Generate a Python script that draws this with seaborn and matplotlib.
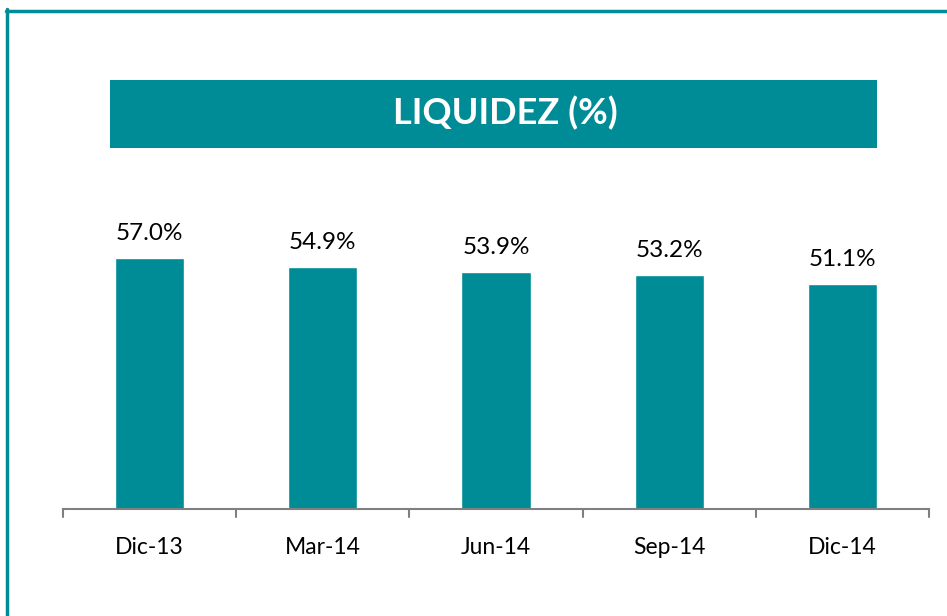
import matplotlib
matplotlib.use("Agg")
import matplotlib.pyplot as plt
import seaborn as sns
import pandas as pd
from matplotlib.patches import Rectangle
from matplotlib.lines import Line2D

categories = ["Dic-13", "Mar-14", "Jun-14", "Sep-14", "Dic-14"]
values = [57.0, 54.9, 53.9, 53.2, 51.1]
title = "LIQUIDEZ (%)"

teal = "#008C96"
sns.set_style("white")
plt.rcParams['font.family'] = ['Lato', 'DejaVu Sans']

df = pd.DataFrame({"cat": categories, "val": values})

fig = plt.figure(figsize=(9.47, 6.16), dpi=100)
W, H = 947, 616
ax = fig.add_axes([63 / W, (H - 509) / H, 866 / W, 70 * 4.4 / H])
sns.barplot(data=df, x="cat", y="val", color=teal, width=0.40, saturation=1, ax=ax)
ax.set_ylim(0, 70)
ax.set_xlim(-0.5, len(categories) - 0.5)
ax.set_xlabel("")
ax.set_ylabel("")
ax.set_yticks([])
for s in ["top", "right", "left"]:
    ax.spines[s].set_visible(False)
ax.spines["bottom"].set_color("#808080")
ax.spines["bottom"].set_linewidth(1.5)
ax.set_xticks([i for i in range(len(categories))])
ax.set_xticklabels(categories, fontsize=16.5, color="black")
ax.tick_params(axis="x", length=0, pad=20)
# boundary ticks
for b in [i - 0.5 for i in range(len(categories) + 1)]:
    ax.plot([b, b], [0, -1.8], color="#808080", lw=1.5, clip_on=False)
for i, v in enumerate(values):
    ax.text(i, v + 3.2, f"{v:.1f}%", ha="center", va="bottom", fontsize=17.5, color="black")

# title box
fig.patches.append(Rectangle((110 / W, (H - 148) / H), 767 / W, 68 / H,
                             transform=fig.transFigure, facecolor=teal, edgecolor="none"))
fig.text(505 / W, (H - 113) / H, title, ha="center", va="center", color="white",
         fontsize=26, fontweight="bold")

# frame lines
fig.lines.append(Line2D([7 / W, 7 / W], [0, (H - 9) / H], transform=fig.transFigure,
                        color=teal, lw=2.5))
fig.lines.append(Line2D([6 / W, 1], [(H - 10.5) / H, (H - 10.5) / H], transform=fig.transFigure,
                        color=teal, lw=2.5))

fig.savefig("out.png", dpi=100)
